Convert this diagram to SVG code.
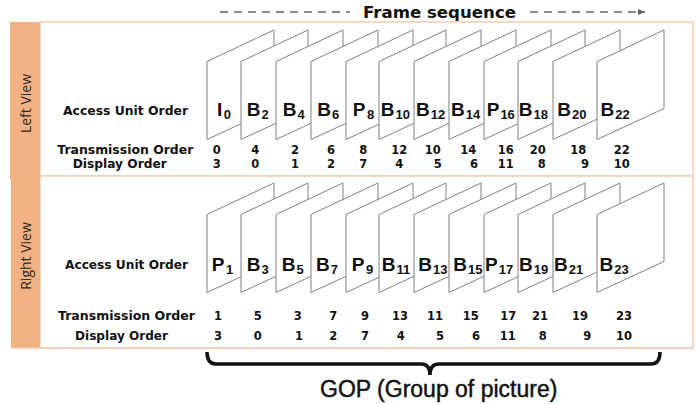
<svg xmlns="http://www.w3.org/2000/svg" width="697" height="404" viewBox="0 0 697 404">
<defs>
<style>
.panel{fill:#fff;stroke:#F8CBAD;stroke-width:1.5}
.bar{fill:#F2B183}
.side{font-family:"Open Sans","Noto Sans",sans-serif;font-size:14px;fill:#2a2a2a;text-anchor:middle}
.fr{fill:#fff;stroke:#808080;stroke-width:1}
.lab{font-family:"Liberation Sans",Arial,sans-serif;font-weight:bold;font-size:19px;fill:#111}
.sub{font-size:13px}
.row{font-family:"DejaVu Sans",Verdana,sans-serif;font-weight:bold;font-size:12px;fill:#111}
.num{font-family:"DejaVu Sans",Verdana,sans-serif;font-weight:bold;font-size:11.5px;fill:#111;text-anchor:middle}
.dash{stroke:#666;stroke-width:1.4;stroke-dasharray:8 6;fill:none}
.title{font-family:"DejaVu Sans",Verdana,sans-serif;font-weight:bold;font-size:15.5px;fill:#111}
.gop{font-family:"Liberation Sans",Arial,sans-serif;font-size:23px;fill:#111;stroke:#111;stroke-width:0.45}
</style>
<marker id="ah" markerWidth="8" markerHeight="8" refX="7" refY="4" orient="auto" markerUnits="userSpaceOnUse">
<path d="M0,1 L7,4 L0,7 Z" fill="#666"/>
</marker>
<polygon id="frm" points="0,0 67,-31.5 67,47 0,78"/>
</defs>

<g id="background">
<rect class="panel" x="40" y="22" width="653" height="154"/>
<rect class="panel" x="40" y="176" width="653" height="172"/>
<rect class="bar" x="10" y="22" width="30" height="158"/>
<rect class="bar" x="11" y="178" width="29" height="170"/>
<line x1="10" y1="348" x2="693" y2="348" stroke="#F8CBAD" stroke-width="1.5"/>
<text class="side" transform="translate(30.5,103.5) rotate(-90)">Left View</text>
<text class="side" transform="translate(30.5,256) rotate(-90)">Right View</text>
</g>

<g id="header">
<line class="dash" x1="220" y1="12" x2="350" y2="12"/>
<text class="title" x="363" y="17.5" textLength="153" lengthAdjust="spacingAndGlyphs">Frame sequence</text>
<line class="dash" x1="530" y1="12" x2="645" y2="12" marker-end="url(#ah)"/>
</g>

<g id="row-labels">
<text class="row" x="63" y="115" textLength="125" lengthAdjust="spacingAndGlyphs">Access Unit Order</text>
<text class="row" x="57.3" y="153.5" textLength="136" lengthAdjust="spacingAndGlyphs">Transmission Order</text>
<text class="row" x="72.7" y="168" textLength="94" lengthAdjust="spacingAndGlyphs">Display Order</text>
<text class="row" x="65" y="268.5" textLength="123" lengthAdjust="spacingAndGlyphs">Access Unit Order</text>
<text class="row" x="58" y="320" textLength="137" lengthAdjust="spacingAndGlyphs">Transmission Order</text>
<text class="row" x="75" y="340" textLength="93" lengthAdjust="spacingAndGlyphs">Display Order</text>
</g>

<g id="left-view">
<g id="L-I0"><use href="#frm" class="fr" x="207" y="61.5"/><text class="lab" x="217" y="116">I<tspan class="sub" dx="1.5" dy="3">0</tspan></text><text class="num" x="216.7" y="153.5">0</text><text class="num" x="216.7" y="168">3</text></g>
<g id="L-B2"><use href="#frm" class="fr" x="241" y="61.5"/><text class="lab" x="246.7" y="116">B<tspan class="sub" dx="1" dy="3">2</tspan></text><text class="num" x="255.3" y="153.5">4</text><text class="num" x="255.3" y="168">0</text></g>
<g id="L-B4"><use href="#frm" class="fr" x="276" y="61.5"/><text class="lab" x="282.7" y="116">B<tspan class="sub" dx="1" dy="3">4</tspan></text><text class="num" x="295" y="153.5">2</text><text class="num" x="295" y="168">1</text></g>
<g id="L-B6"><use href="#frm" class="fr" x="311" y="61.5"/><text class="lab" x="317.3" y="116">B<tspan class="sub" dx="1" dy="3">6</tspan></text><text class="num" x="331" y="153.5">6</text><text class="num" x="331" y="168">2</text></g>
<g id="L-P8"><use href="#frm" class="fr" x="346" y="61.5"/><text class="lab" x="352.7" y="116">P<tspan class="sub" dx="1.5" dy="3">8</tspan></text><text class="num" x="363.3" y="153.5">8</text><text class="num" x="363.3" y="168">7</text></g>
<g id="L-B10"><use href="#frm" class="fr" x="379" y="61.5"/><text class="lab" x="380.7" y="116">B<tspan class="sub" dx="1" dy="3">10</tspan></text><text class="num" x="399.3" y="153.5">12</text><text class="num" x="399.3" y="168">4</text></g>
<g id="L-B12"><use href="#frm" class="fr" x="414" y="61.5"/><text class="lab" x="416" y="116">B<tspan class="sub" dx="1" dy="3">12</tspan></text><text class="num" x="432.7" y="153.5">10</text><text class="num" x="437.7" y="168">5</text></g>
<g id="L-B14"><use href="#frm" class="fr" x="449" y="61.5"/><text class="lab" x="451" y="116">B<tspan class="sub" dx="1" dy="3">14</tspan></text><text class="num" x="468.3" y="153.5">14</text><text class="num" x="474" y="168">6</text></g>
<g id="L-P16"><use href="#frm" class="fr" x="484" y="61.5"/><text class="lab" x="486.7" y="116">P<tspan class="sub" dx="1" dy="3">16</tspan></text><text class="num" x="505.7" y="153.5">16</text><text class="num" x="505.7" y="168">11</text></g>
<g id="L-B18"><use href="#frm" class="fr" x="518" y="61.5"/><text class="lab" x="518.8" y="116">B<tspan class="sub" dx="1" dy="3">18</tspan></text><text class="num" x="537.7" y="153.5">20</text><text class="num" x="541.7" y="168">8</text></g>
<g id="L-B20"><use href="#frm" class="fr" x="553" y="61.5"/><text class="lab" x="557.3" y="116">B<tspan class="sub" dx="1" dy="3">20</tspan></text><text class="num" x="578.3" y="153.5">18</text><text class="num" x="585" y="168">9</text></g>
<g id="L-B22"><use href="#frm" class="fr" x="597" y="61.5"/><text class="lab" x="600.5" y="116">B<tspan class="sub" dx="1" dy="3">22</tspan></text><text class="num" x="621.7" y="153.5">22</text><text class="num" x="621.7" y="168">10</text></g>
</g>

<g id="right-view">
<g id="R-P1"><use href="#frm" class="fr" x="207" y="214.5"/><text class="lab" x="211.7" y="271">P<tspan class="sub" dx="1.5" dy="3">1</tspan></text><text class="num" x="218" y="320">1</text><text class="num" x="218" y="340">3</text></g>
<g id="R-B3"><use href="#frm" class="fr" x="241" y="214.5"/><text class="lab" x="246.7" y="271">B<tspan class="sub" dx="1" dy="3">3</tspan></text><text class="num" x="257.7" y="320">5</text><text class="num" x="257.7" y="340">0</text></g>
<g id="R-B5"><use href="#frm" class="fr" x="276" y="214.5"/><text class="lab" x="281.7" y="271">B<tspan class="sub" dx="1" dy="3">5</tspan></text><text class="num" x="297.7" y="320">3</text><text class="num" x="299" y="340">1</text></g>
<g id="R-B7"><use href="#frm" class="fr" x="311" y="214.5"/><text class="lab" x="316" y="271">B<tspan class="sub" dx="1" dy="3">7</tspan></text><text class="num" x="333.3" y="320">7</text><text class="num" x="333.3" y="340">2</text></g>
<g id="R-P9"><use href="#frm" class="fr" x="346" y="214.5"/><text class="lab" x="351.7" y="271">P<tspan class="sub" dx="1.5" dy="3">9</tspan></text><text class="num" x="365" y="320">9</text><text class="num" x="365" y="340">7</text></g>
<g id="R-B11"><use href="#frm" class="fr" x="379" y="214.5"/><text class="lab" x="381.7" y="271">B<tspan class="sub" dx="1" dy="3">11</tspan></text><text class="num" x="400" y="320">13</text><text class="num" x="400.7" y="340">4</text></g>
<g id="R-B13"><use href="#frm" class="fr" x="414" y="214.5"/><text class="lab" x="418.3" y="271">B<tspan class="sub" dx="1" dy="3">13</tspan></text><text class="num" x="435" y="320">11</text><text class="num" x="440" y="340">5</text></g>
<g id="R-B15"><use href="#frm" class="fr" x="449" y="214.5"/><text class="lab" x="453.3" y="271">B<tspan class="sub" dx="1" dy="3">15</tspan></text><text class="num" x="470.7" y="320">15</text><text class="num" x="476" y="340">6</text></g>
<g id="R-P17"><use href="#frm" class="fr" x="484" y="214.5"/><text class="lab" x="485" y="271">P<tspan class="sub" dx="1" dy="3">17</tspan></text><text class="num" x="508.3" y="320">17</text><text class="num" x="507.7" y="340">11</text></g>
<g id="R-B19"><use href="#frm" class="fr" x="518" y="214.5"/><text class="lab" x="519" y="271">B<tspan class="sub" dx="1" dy="3">19</tspan></text><text class="num" x="540" y="320">21</text><text class="num" x="542.7" y="340">8</text></g>
<g id="R-B21"><use href="#frm" class="fr" x="553" y="214.5"/><text class="lab" x="554" y="271">B<tspan class="sub" dx="1" dy="3">21</tspan></text><text class="num" x="580" y="320">19</text><text class="num" x="587.3" y="340">9</text></g>
<g id="R-B23"><use href="#frm" class="fr" x="597" y="214.5"/><text class="lab" x="599.5" y="271">B<tspan class="sub" dx="1" dy="3">23</tspan></text><text class="num" x="624" y="320">23</text><text class="num" x="624" y="340">10</text></g>
</g>

<g id="connectors">
<path d="M207,352 Q207,364 216,364 H421 Q430,364 430,375 M660,352 Q660,364 651,364 H439 Q430,364 430,375" fill="none" stroke="#111" stroke-width="3.5"/>
</g>
<g id="gop-label">
<text class="gop" x="320" y="396.5">GOP (Group of picture)</text>
</g>
</svg>
